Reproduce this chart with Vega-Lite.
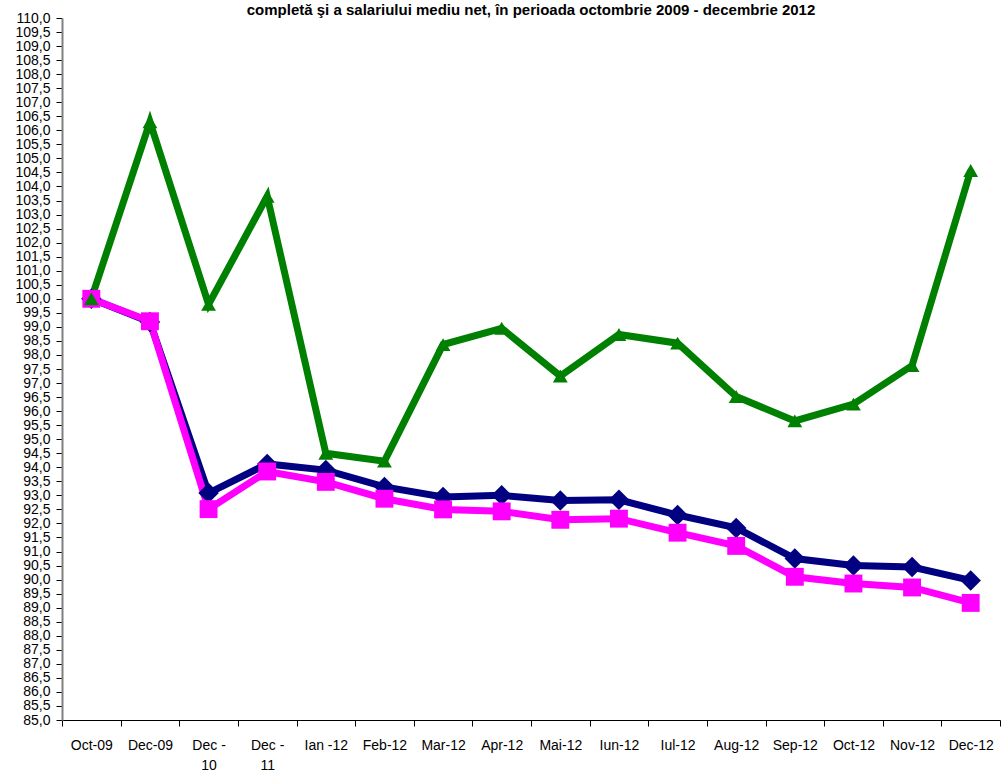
{
  "$schema": "https://vega.github.io/schema/vega-lite/v6.json",
  "width": 938,
  "height": 702,
  "autosize": "none",
  "padding": {"left": 62, "top": 18, "right": 5, "bottom": 53},
  "background": "white",
  "config": {"view": {"stroke": null}, "font": "Liberation Sans"},
  "title": {"text": "completă şi a salariului mediu net, în perioada octombrie 2009 - decembrie 2012", "fontSize": 15, "fontWeight": "bold", "anchor": "middle", "offset": 3, "dy": 10, "color": "black", "font": "Liberation Sans"},
  "data": {"values": [
    {"m": "Oct-09", "s": "A", "v": 100.0}, {"m": "Dec-09", "s": "A", "v": 99.17}, {"m": "Dec -|10", "s": "A", "v": 93.08}, {"m": "Dec -|11", "s": "A", "v": 94.12},
    {"m": "Ian -12", "s": "A", "v": 93.9}, {"m": "Feb-12", "s": "A", "v": 93.3}, {"m": "Mar-12", "s": "A", "v": 92.94}, {"m": "Apr-12", "s": "A", "v": 93.0},
    {"m": "Mai-12", "s": "A", "v": 92.82}, {"m": "Iun-12", "s": "A", "v": 92.84}, {"m": "Iul-12", "s": "A", "v": 92.3}, {"m": "Aug-12", "s": "A", "v": 91.84},
    {"m": "Sep-12", "s": "A", "v": 90.75}, {"m": "Oct-12", "s": "A", "v": 90.5}, {"m": "Nov-12", "s": "A", "v": 90.45}, {"m": "Dec-12", "s": "A", "v": 89.97},
    {"m": "Oct-09", "s": "B", "v": 100.0}, {"m": "Dec-09", "s": "B", "v": 99.2}, {"m": "Dec -|10", "s": "B", "v": 92.51}, {"m": "Dec -|11", "s": "B", "v": 93.85},
    {"m": "Ian -12", "s": "B", "v": 93.48}, {"m": "Feb-12", "s": "B", "v": 92.88}, {"m": "Mar-12", "s": "B", "v": 92.5}, {"m": "Apr-12", "s": "B", "v": 92.43},
    {"m": "Mai-12", "s": "B", "v": 92.13}, {"m": "Iun-12", "s": "B", "v": 92.17}, {"m": "Iul-12", "s": "B", "v": 91.67}, {"m": "Aug-12", "s": "B", "v": 91.2},
    {"m": "Sep-12", "s": "B", "v": 90.1}, {"m": "Oct-12", "s": "B", "v": 89.86}, {"m": "Nov-12", "s": "B", "v": 89.72}, {"m": "Dec-12", "s": "B", "v": 89.17},
    {"m": "Oct-09", "s": "C", "v": 100.0}, {"m": "Dec-09", "s": "C", "v": 106.3}, {"m": "Dec -|10", "s": "C", "v": 99.8}, {"m": "Dec -|11", "s": "C", "v": 103.65},
    {"m": "Ian -12", "s": "C", "v": 94.5}, {"m": "Feb-12", "s": "C", "v": 94.22}, {"m": "Mar-12", "s": "C", "v": 98.37}, {"m": "Apr-12", "s": "C", "v": 98.95},
    {"m": "Mai-12", "s": "C", "v": 97.25}, {"m": "Iun-12", "s": "C", "v": 98.73}, {"m": "Iul-12", "s": "C", "v": 98.42}, {"m": "Aug-12", "s": "C", "v": 96.52},
    {"m": "Sep-12", "s": "C", "v": 95.65}, {"m": "Oct-12", "s": "C", "v": 96.25}, {"m": "Nov-12", "s": "C", "v": 97.62}, {"m": "Dec-12", "s": "C", "v": 104.57}
  ]},
  "encoding": {
    "x": {"field": "m", "type": "nominal", "sort": null, "bandPosition": 0.5,
      "scale": {"type": "band", "paddingInner": 0, "paddingOuter": 0},
      "axis": {"title": null, "labelAngle": 0, "tickBand": "extent", "labelExpr": "split(datum.label, '|')",
        "labelFontSize": 14, "labelColor": "black", "labelPadding": 12, "tickSize": 6, "tickColor": "black", "domainColor": "black", "labelLineHeight": 20, "labelOverlap": false, "grid": false}},
    "y": {"field": "v", "type": "quantitative",
      "scale": {"domain": [85, 110], "nice": false, "zero": false},
      "axis": {"title": null, "values": [85,85.5,86,86.5,87,87.5,88,88.5,89,89.5,90,90.5,91,91.5,92,92.5,93,93.5,94,94.5,95,95.5,96,96.5,97,97.5,98,98.5,99,99.5,100,100.5,101,101.5,102,102.5,103,103.5,104,104.5,105,105.5,106,106.5,107,107.5,108,108.5,109,109.5,110],
        "labelExpr": "replace(format(datum.value, '.1f'), '.', ',')", "labelFontSize": 14, "labelColor": "black", "labelPadding": 6, "labelOverlap": false, "labelFlush": false,
        "tickSize": 6, "tickColor": "black", "domainColor": "#808080", "domainWidth": 2, "grid": false}},
    "color": {"field": "s", "type": "nominal", "legend": null,
      "scale": {"domain": ["A", "B", "C"], "range": ["#000080", "#FF00FF", "#008000"]}},
    "order": {"field": "s"}
  },
  "layer": [
    {"mark": {"type": "line", "strokeWidth": 7, "strokeJoin": "miter"}, "encoding": {"order": {"value": null}}},
    {"mark": {"type": "point", "filled": true, "opacity": 1},
     "encoding": {
       "shape": {"field": "s", "type": "nominal", "legend": null, "scale": {"domain": ["A", "B", "C"], "range": ["diamond", "square", "triangle-up"]}},
       "size": {"field": "s", "type": "nominal", "legend": null, "scale": {"domain": ["A", "B", "C"], "range": [420, 220, 260]}}
     }}
  ]
}
